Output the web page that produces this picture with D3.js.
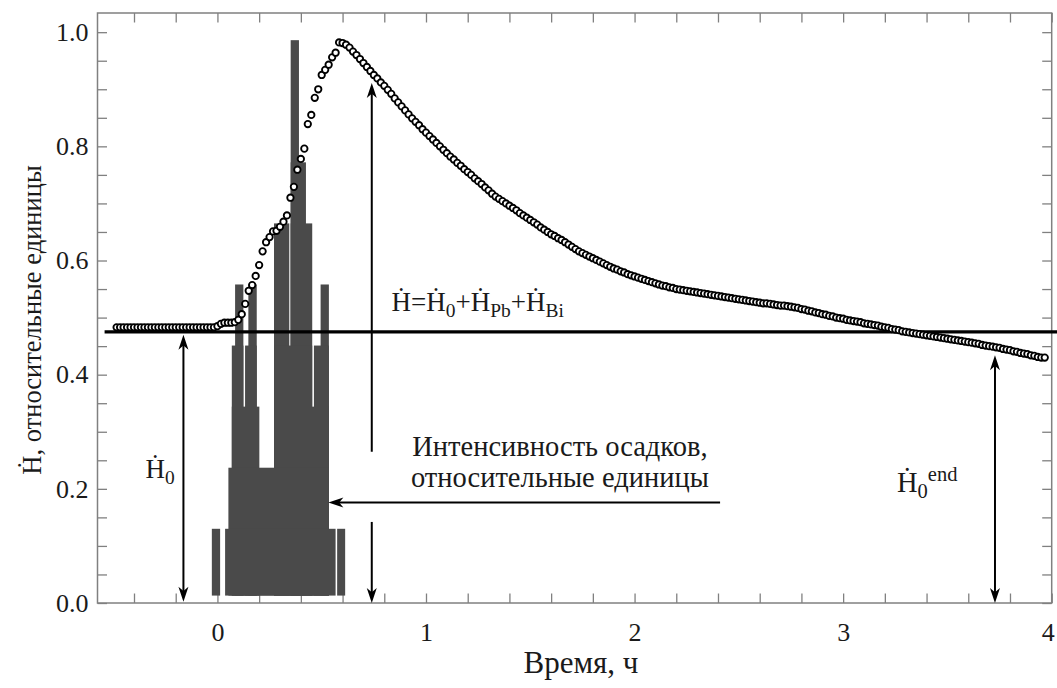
<!DOCTYPE html>
<html>
<head>
<meta charset="utf-8">
<script src="https://cdn.jsdelivr.net/npm/d3@7"></script>
<style>
  body { margin: 0; background: #fff; }
  svg { display: block; }
  text { font-family: "Liberation Serif", "Times New Roman", serif; fill: #1a1a1a; }
</style>
</head>
<body>
<svg id="chart" width="1057" height="688"></svg>
<script>
// Dose rate, relative units: one reading per minute, first reading at minute -29
const doseStartMinute = -29;
const doseRate = [
  0.483,0.483,0.483,0.483,0.483,0.483,0.483,0.483,0.483,0.483,
  0.483,0.483,0.483,0.483,0.483,0.483,0.483,0.483,0.483,0.483,
  0.483,0.483,0.483,0.483,0.483,0.483,0.483,0.483,0.483,
  0.485,0.489,0.491,0.491,0.491,0.492,0.496,0.506,0.524,0.547,
  0.557,0.573,0.592,0.616,0.632,0.641,0.651,0.652,0.659,0.668,
  0.679,0.710,0.729,0.759,0.778,0.796,0.839,0.855,0.885,0.900,
  0.925,0.934,0.943,0.956,0.964,0.982,0.981,0.978,0.973,0.966,
  0.960,
  0.953,0.946,0.939,0.932,0.925,0.919,0.912,0.906,0.899,0.892,
  0.884,0.877,0.870,0.863,0.856,0.849,0.843,0.837,0.830,0.824,
  0.818,0.812,0.806,0.800,0.794,0.788,0.782,0.777,0.771,0.766,
  0.760,0.755,0.750,0.744,0.739,0.734,0.728,0.723,0.717,0.712,
  0.708,0.704,0.700,0.696,0.692,0.688,0.683,0.679,0.675,0.671,
  0.667,0.663,0.658,0.654,0.650,0.646,0.643,0.639,0.636,0.632,
  0.628,0.624,0.620,0.616,0.613,0.610,0.607,0.604,0.601,0.598,
  0.595,0.592,0.589,0.586,0.584,0.581,0.579,0.576,0.574,0.572,
  0.570,0.568,0.566,0.564,0.562,0.560,0.558,0.556,0.555,0.553,
  0.552,0.550,0.549,0.548,0.547,0.546,0.545,0.544,0.543,0.542,
  0.541,0.540,0.539,0.538,0.537,0.536,0.535,0.534,0.533,0.532,
  0.531,0.530,0.529,0.528,0.527,0.526,0.525,0.525,0.524,0.523,
  0.522,0.521,0.521,0.520,0.519,0.518,0.517,0.515,0.514,0.512,
  0.511,0.509,0.508,0.506,0.505,0.503,0.502,0.500,0.499,0.498,
  0.496,0.495,0.494,0.493,0.492,0.490,0.489,0.488,0.487,0.486,
  0.484,0.483,0.482,0.480,0.479,0.478,0.476,0.475,0.474,0.473,
  0.472,0.471,0.470,0.469,0.468,0.467,0.466,0.465,0.464,0.463,
  0.462,0.461,0.460,0.459,0.458,0.457,0.456,0.455,0.454,0.452,
  0.451,0.450,0.449,0.448,0.447,0.445,0.444,0.443,0.441,0.440,
  0.438,0.437,0.436,0.434,0.433,0.431,0.430,0.430
];

// Precipitation intensity: interval start / end (h) and level (relative units)
const rainStart = [0.3512, 0.3512, 0.2713, 0.3512, 0.0847, 0.1483, 0.4947, 0.0689, 0.1325, 0.2713, 0.4627, 0.0689, 0.2713, 0.0526, 0.0368, -0.0268, 0.5740];
const rainEnd   = [0.3909, 0.4244, 0.3445, 0.4545, 0.1244, 0.1885, 0.5344, 0.1244, 0.1885, 0.4545, 0.5344, 0.2010, 0.5344, 0.5344, 0.5665,  0.0129, 0.6124];
const rainLevel = [0.986,  0.772,  0.665,  0.665,  0.558,  0.558,  0.558,  0.451,  0.451,  0.451,  0.451,  0.344,  0.344,  0.237,  0.130,   0.130,  0.130];
const rainBase = 0.013;

// Background dose rate level H0
const backgroundLevel = 0.475;
const backgroundSpan = [-0.541, 4.03];
const endLevel = 0.434;

// Axis ticks
const xMinorTicks = [-0.4,-0.2,0,0.2,0.4,0.6,0.8,1,1.2,1.4,1.6,1.8,2,2.2,2.4,2.6,2.8,3,3.2,3.4,3.6,3.8,4];
const xTickLabels = [0, 1, 2, 3, 4];
const yMinorTicks = [0,0.05,0.1,0.15,0.2,0.25,0.3,0.35,0.4,0.45,0.5,0.55,0.6,0.65,0.7,0.75,0.8,0.85,0.9,0.95,1.0];
const yTickLabels = [0, 0.2, 0.4, 0.6, 0.8, 1.0];

const svg = d3.select("#chart");
const plot = { left: 97.5, right: 1051.7, top: 13, bottom: 603 };

const x = d3.scaleLinear().domain([-0.575, 4]).range([plot.left, plot.right]);
const y = d3.scaleLinear().domain([0, 1.0336]).range([plot.bottom, plot.top]);

const axisColor = "#808080";
const tickLen = 9.5;
const fmtY = d3.format(".1f");

// ---- axes (ticks point inward on all four sides)
const gx = svg.append("g").attr("transform", `translate(0,${plot.bottom})`)
  .call(d3.axisBottom(x).tickValues(xMinorTicks).tickSizeInner(-tickLen).tickSizeOuter(0).tickPadding(20)
    .tickFormat(d => xTickLabels.includes(d) ? String(d) : ""));
const gxTop = svg.append("g").attr("transform", `translate(0,${plot.top})`)
  .call(d3.axisTop(x).tickValues(xMinorTicks).tickSizeInner(-tickLen).tickSizeOuter(0).tickFormat(""));
const gy = svg.append("g").attr("transform", `translate(${plot.left},0)`)
  .call(d3.axisLeft(y).tickValues(yMinorTicks).tickSizeInner(-tickLen).tickSizeOuter(0).tickPadding(9)
    .tickFormat(d => yTickLabels.some(v => Math.abs(v - d) < 1e-9) ? fmtY(d) : ""));
const gyRight = svg.append("g").attr("transform", `translate(${plot.right},0)`)
  .call(d3.axisRight(y).tickValues(yMinorTicks).tickSizeInner(-tickLen).tickSizeOuter(0).tickFormat(""));

[gx, gxTop, gy, gyRight].forEach(g => {
  g.select(".domain").remove();
  g.selectAll(".tick line").attr("stroke", axisColor).attr("stroke-width", 1.3);
  g.selectAll(".tick text").attr("font-family", "Liberation Serif, serif").attr("font-size", 26).attr("fill", "#1a1a1a");
});
// keep the last x label inside the page
gx.selectAll(".tick text").filter(d => d === 4).attr("dx", -4);

// frame
svg.append("rect")
  .attr("x", plot.left).attr("y", plot.top)
  .attr("width", plot.right - plot.left).attr("height", plot.bottom - plot.top)
  .attr("fill", "none").attr("stroke", axisColor).attr("stroke-width", 1.5);

// ---- precipitation bars: taller intervals first, shorter ones layered over them
const rain = rainStart.map((s, i) => ({ start: s, end: rainEnd[i], level: rainLevel[i] }))
  .sort((a, b) => b.level - a.level);
svg.append("g").selectAll("rect").data(rain).join("rect")
  .attr("x", d => x(d.start))
  .attr("width", d => x(d.end) - x(d.start))
  .attr("y", d => y(d.level))
  .attr("height", d => y(rainBase) - y(d.level))
  .attr("fill", "#4a4a4a");

// ---- background level line
svg.append("line")
  .attr("x1", x(backgroundSpan[0])).attr("x2", x(backgroundSpan[1]))
  .attr("y1", y(backgroundLevel)).attr("y2", y(backgroundLevel))
  .attr("stroke", "#000").attr("stroke-width", 3.2);

// ---- dose-rate readings
const dose = doseRate.map((v, i) => ({ t: (doseStartMinute + i) / 60, v }));
svg.append("g").selectAll("circle").data(dose).join("circle")
  .attr("cx", d => x(d.t)).attr("cy", d => y(d.v)).attr("r", 3.2)
  .attr("fill", "#fff").attr("stroke", "#000").attr("stroke-width", 1.85);

// ---- arrows
function arrowHead(px, py, angle) {
  const L = 15, Wd = 5;
  svg.append("path")
    .attr("d", `M0,0 L${-L},${-Wd} L${-0.72 * L},0 L${-L},${Wd} Z`)
    .attr("transform", `translate(${px},${py}) rotate(${angle})`)
    .attr("fill", "#000");
}
function arrow(t1, v1, t2, v2, both) {
  const X1 = x(t1), Y1 = y(v1), X2 = x(t2), Y2 = y(v2);
  const ang = Math.atan2(Y2 - Y1, X2 - X1) * 180 / Math.PI;
  const len = Math.hypot(X2 - X1, Y2 - Y1);
  const ux = (X2 - X1) / len, uy = (Y2 - Y1) / len;
  const inset = 10;
  svg.append("line")
    .attr("x1", both ? X1 + ux * inset : X1).attr("y1", both ? Y1 + uy * inset : Y1)
    .attr("x2", X2 - ux * inset).attr("y2", Y2 - uy * inset)
    .attr("stroke", "#000").attr("stroke-width", 2);
  arrowHead(X2, Y2, ang);
  if (both) arrowHead(X1, Y1, ang + 180);
}
arrow(-0.163, backgroundLevel - 0.005, -0.163, 0.002, true);   // H0
arrow(0.740, 0.265, 0.740, 0.911, false);                         // total dose-rate peak
arrow(0.740, 0.142, 0.740, 0.0, false);                           // to the axis
arrow(2.41, 0.176, 0.532, 0.176, false);                          // precipitation label
arrow(3.728, endLevel, 3.728, 0.0, true);                         // H0 at the end

// ---- labels
const HD = "\u1E22"; // H with dot above (dose rate)
const fs = 28.5;

function richText(px, py, parts, size) {
  const t = svg.append("text").attr("x", px).attr("y", py).attr("font-size", size);
  let shift = 0;
  parts.forEach(p => {
    const target = p.sub ? 6 : p.sup ? -11 : 0;
    t.append("tspan")
      .attr("dy", target - shift)
      .attr("font-size", (p.sub || p.sup) ? size * 0.72 : size)
      .text(p.s);
    shift = target;
  });
  return t;
}

richText(x(0.835), y(0.511), [
  { s: HD + "=" + HD }, { s: "0", sub: true }, { s: "+" + HD }, { s: "Pb", sub: true },
  { s: "+" + HD }, { s: "Bi", sub: true }
], 27).attr("fill", "#3a3a3a");

svg.append("text").attr("x", x(1.642)).attr("y", y(0.257)).attr("text-anchor", "middle")
  .attr("font-size", fs).text("Интенсивность осадков,");
svg.append("text").attr("x", x(1.642)).attr("y", y(0.203)).attr("text-anchor", "middle")
  .attr("font-size", fs).text("относительные единицы");

richText(x(-0.345), y(0.219), [{ s: HD }, { s: "0", sub: true }], 27);
richText(x(3.258), y(0.194), [{ s: HD }, { s: "0", sub: true }, { s: "end", sup: true }], 28.5);

// axis titles
svg.append("text").attr("x", 581).attr("y", 673)
  .attr("text-anchor", "middle").attr("font-size", 31).text("Время, ч");
svg.append("text")
  .attr("transform", `translate(41,${(plot.top + plot.bottom) / 2 + 12}) rotate(-90)`)
  .attr("text-anchor", "middle").attr("font-size", 26.5).text(HD + ", относительные единицы");
</script>
</body>
</html>
